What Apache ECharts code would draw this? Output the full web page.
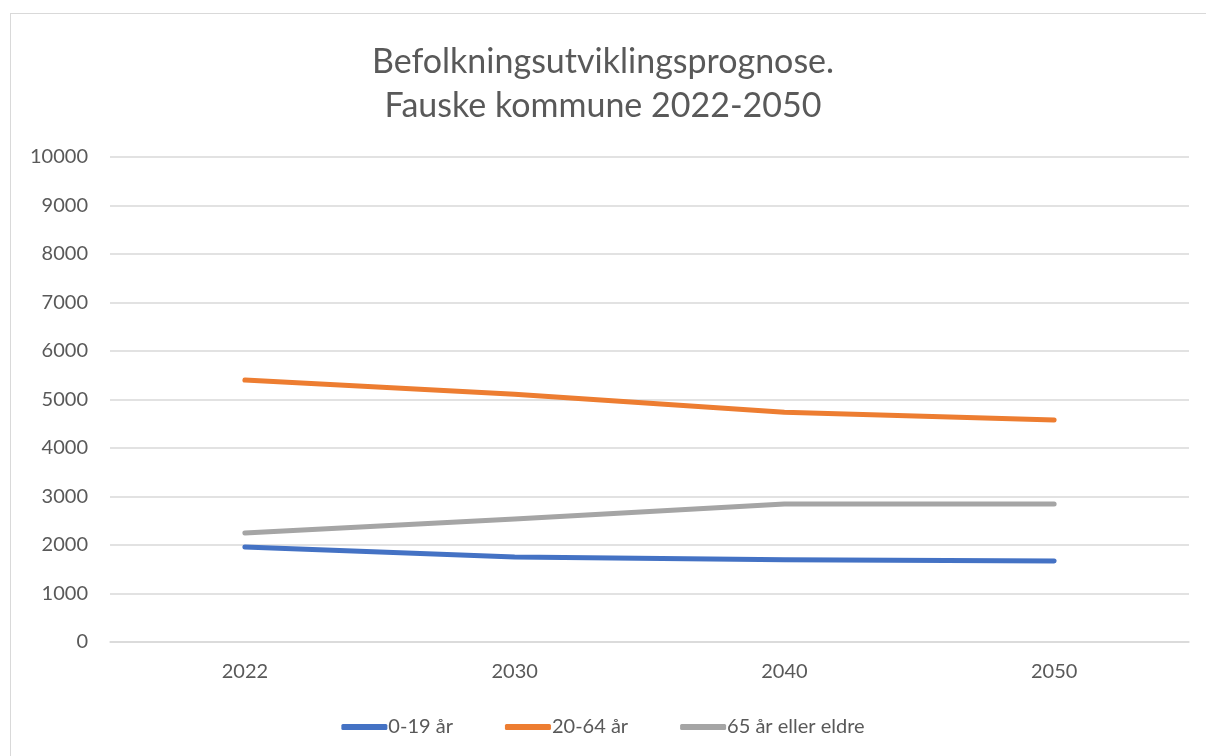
<!DOCTYPE html>
<html><head><meta charset="utf-8">
<script src="https://cdn.jsdelivr.net/npm/echarts@6/dist/echarts.min.js"></script>
<style>
html,body{margin:0;padding:0;background:#fff;}
#frame{position:absolute;left:10px;top:13px;width:1200px;height:750px;border-left:1px solid #d9d9d9;border-top:1px solid #d9d9d9;}
#c{position:absolute;left:0;top:0;width:1206px;height:756px;}
</style></head>
<body>
<div id="frame"></div>
<div id="c"></div>
<script>
const years = ['2022','2030','2040','2050'];
const age0_19 = [1960, 1755, 1695, 1670];
const age20_64 = [5400, 5110, 4735, 4575];
const age65plus = [2245, 2535, 2845, 2845];
const seriesNames = ['0-19 år','20-64 år','65 år eller eldre'];
const colors = ['#4472C4','#ED7D31','#A5A5A5'];
const font = 'Lato';
const chart = echarts.init(document.getElementById('c'));
const mk = (name, data, color) => ({
  name, type:'line', data, symbol:'none', smooth:false,
  lineStyle:{width:5, color, cap:'round', join:'round'}, itemStyle:{color}
});
chart.setOption({
  animation:false,
  color: colors,
  title:{
    text:'Befolkningsutviklingsprognose.\nFauske kommune 2022-2050',
    left:'center', top:35,
    textStyle:{fontFamily:font, fontSize:34, fontWeight:'normal', color:'#595959', lineHeight:44}
  },
  legend:{
    bottom:14, left:'center', itemWidth:46, itemHeight:6, itemGap:52,
    icon:'roundRect',
    textStyle:{fontFamily:font, fontSize:20, color:'#595959', padding:[0,0,0,-4]},
    data: seriesNames
  },
  grid:{left:110, right:17, top:157, bottom:114},
  xAxis:{
    type:'category', data:years, boundaryGap:true,
    axisLine:{show:true, lineStyle:{color:'#d9d9d9', width:1.5}},
    axisTick:{show:false},
    axisLabel:{fontFamily:font, fontSize:20, color:'#595959', margin:20}
  },
  yAxis:{
    type:'value', min:0, max:10000, interval:1000,
    axisLine:{show:false}, axisTick:{show:false},
    splitLine:{lineStyle:{color:'#d9d9d9', width:1.5}},
    axisLabel:{fontFamily:font, fontSize:20, color:'#595959', margin:22, formatter:v=>String(v)}
  },
  series:[
    mk(seriesNames[0], age0_19, colors[0]),
    mk(seriesNames[1], age20_64, colors[1]),
    mk(seriesNames[2], age65plus, colors[2])
  ]
});
</script>
</body></html>
